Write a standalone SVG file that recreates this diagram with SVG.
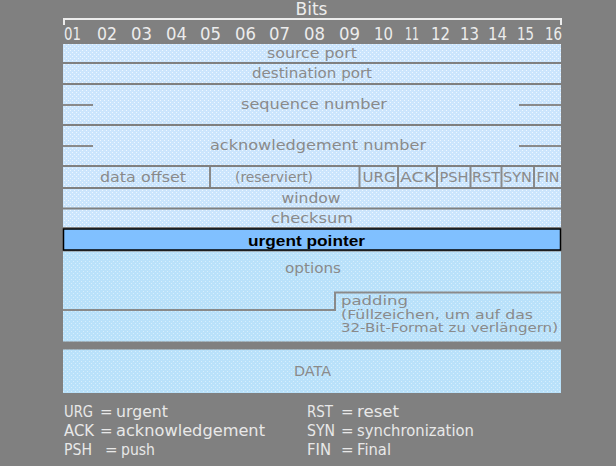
<svg xmlns="http://www.w3.org/2000/svg" width="616" height="466" viewBox="0 0 616 466">
<defs>
<pattern id="dither" width="4" height="4" patternUnits="userSpaceOnUse">
<rect width="4" height="4" fill="#cbe5fd"/>
<rect x="0" y="0" width="1" height="1" fill="#eef7ff"/>
<rect x="2" y="2" width="1" height="1" fill="#eef7ff"/>
</pattern>
<pattern id="dither2" width="4" height="4" patternUnits="userSpaceOnUse">
<rect width="4" height="4" fill="#b9e1fa"/>
<rect x="1" y="1" width="1" height="1" fill="#d6eefc"/>
<rect x="3" y="3" width="1" height="1" fill="#d6eefc"/>
</pattern>
</defs>
<style>
.row{fill:url(#dither);}
.row2{fill:url(#dither2);}
.lbl{font-family:"DejaVu Sans","Liberation Sans",sans-serif;font-size:14.5px;fill:#8a8a8a;text-anchor:middle;}
.lbls{font-family:"DejaVu Sans","Liberation Sans",sans-serif;font-size:13px;fill:#8a8a8a;}
.hdr{font-family:"DejaVu Sans","Liberation Sans",sans-serif;font-size:17px;fill:#ececec;}
.leg{font-family:"DejaVu Sans","Liberation Sans",sans-serif;font-size:15px;fill:#e8e8e8;}
.rule{stroke:#8a8a8a;stroke-width:2;fill:none;}
</style>
<rect width="616" height="466" fill="#808080"/>

<g id="header">
<text class="hdr" x="311.5" y="15" text-anchor="middle" font-size="18">Bits</text>
<polyline points="64,25 64,19 561,19 561,25" fill="none" stroke="#ececec" stroke-width="2"/>
<text class="hdr" x="64" y="40" textLength="17" lengthAdjust="spacingAndGlyphs">01</text>
<text class="hdr" x="97" y="40" textLength="20" lengthAdjust="spacingAndGlyphs">02</text>
<text class="hdr" x="131" y="40" textLength="21" lengthAdjust="spacingAndGlyphs">03</text>
<text class="hdr" x="166" y="40" textLength="21" lengthAdjust="spacingAndGlyphs">04</text>
<text class="hdr" x="200" y="40" textLength="21" lengthAdjust="spacingAndGlyphs">05</text>
<text class="hdr" x="235" y="40" textLength="21" lengthAdjust="spacingAndGlyphs">06</text>
<text class="hdr" x="269" y="40" textLength="21" lengthAdjust="spacingAndGlyphs">07</text>
<text class="hdr" x="304" y="40" textLength="21" lengthAdjust="spacingAndGlyphs">08</text>
<text class="hdr" x="339" y="40" textLength="21" lengthAdjust="spacingAndGlyphs">09</text>
<text class="hdr" x="374" y="40" textLength="19" lengthAdjust="spacingAndGlyphs">10</text>
<text class="hdr" x="405" y="40" textLength="14" lengthAdjust="spacingAndGlyphs">11</text>
<text class="hdr" x="431" y="40" textLength="19" lengthAdjust="spacingAndGlyphs">12</text>
<text class="hdr" x="460" y="40" textLength="19" lengthAdjust="spacingAndGlyphs">13</text>
<text class="hdr" x="488" y="40" textLength="19" lengthAdjust="spacingAndGlyphs">14</text>
<text class="hdr" x="517" y="40" textLength="17" lengthAdjust="spacingAndGlyphs">15</text>
<text class="hdr" x="545" y="40" textLength="17" lengthAdjust="spacingAndGlyphs">16</text>
</g>

<g id="source-port">
<rect class="row" x="63" y="44" width="498" height="18"/>
<text class="lbl" x="312" y="58" textLength="90" lengthAdjust="spacingAndGlyphs">source port</text>
</g>
<g id="destination-port">
<rect class="row" x="63" y="64" width="498" height="19"/>
<text class="lbl" x="312" y="78" textLength="120" lengthAdjust="spacingAndGlyphs">destination port</text>
</g>
<g id="sequence-number">
<rect class="row" x="63" y="85" width="498" height="39"/>
<text class="lbl" x="314" y="109" textLength="146" lengthAdjust="spacingAndGlyphs">sequence number</text>
</g>
<g id="acknowledgement-number">
<rect class="row" x="63" y="126" width="498" height="39"/>
<text class="lbl" x="318" y="150" textLength="216" lengthAdjust="spacingAndGlyphs">acknowledgement number</text>
</g>
<g id="flags-row">
<rect class="row" x="63" y="167" width="498" height="20"/>
<text class="lbl" x="143" y="182" textLength="86" lengthAdjust="spacingAndGlyphs">data offset</text>
<text class="lbl" x="274" y="182" textLength="78" lengthAdjust="spacingAndGlyphs">(reserviert)</text>
<text class="lbl" x="379" y="182" font-size="14" textLength="33" lengthAdjust="spacingAndGlyphs">URG</text>
<text class="lbl" x="417.5" y="182" font-size="14" textLength="35" lengthAdjust="spacingAndGlyphs">ACK</text>
<text class="lbl" x="454" y="182" font-size="14" textLength="29" lengthAdjust="spacingAndGlyphs">PSH</text>
<text class="lbl" x="486" y="182" font-size="14" textLength="28" lengthAdjust="spacingAndGlyphs">RST</text>
<text class="lbl" x="517.5" y="182" font-size="14" textLength="29" lengthAdjust="spacingAndGlyphs">SYN</text>
<text class="lbl" x="548" y="182" font-size="14" textLength="23" lengthAdjust="spacingAndGlyphs">FIN</text>
<g class="rule">
<line x1="210" y1="167" x2="210" y2="187"/>
<line x1="359.5" y1="167" x2="359.5" y2="187"/>
<line x1="398" y1="167" x2="398" y2="187"/>
<line x1="437" y1="167" x2="437" y2="187"/>
<line x1="470.5" y1="167" x2="470.5" y2="187"/>
<line x1="501.5" y1="167" x2="501.5" y2="187"/>
<line x1="534" y1="167" x2="534" y2="187"/>
</g>
</g>
<g id="window">
<rect class="row" x="63" y="189" width="498" height="18.5"/>
<text class="lbl" x="311" y="203" textLength="59" lengthAdjust="spacingAndGlyphs">window</text>
</g>
<g id="checksum">
<rect class="row" x="63" y="209.5" width="498" height="17.5"/>
<text class="lbl" x="312" y="223" textLength="82" lengthAdjust="spacingAndGlyphs">checksum</text>
</g>
<g id="urgent-pointer">
<rect x="63.5" y="229" width="497" height="21" fill="#80c0ff" stroke="#000" stroke-width="1.5"/>
<text x="306.5" y="246" text-anchor="middle" font-family="'Liberation Sans', Arial, sans-serif" font-weight="bold" font-size="15" fill="#000" textLength="117" lengthAdjust="spacingAndGlyphs">urgent pointer</text>
</g>
<g id="options">
<rect class="row2" x="63" y="251.5" width="498" height="90"/>
<text class="lbl" x="313" y="273" textLength="56" lengthAdjust="spacingAndGlyphs">options</text>
<text class="lbls" x="341" y="305" textLength="67" lengthAdjust="spacingAndGlyphs">padding</text>
<text class="lbls" x="341" y="318.5" textLength="192" lengthAdjust="spacingAndGlyphs">(Füllzeichen, um auf das</text>
<text class="lbls" x="341" y="332" textLength="217" lengthAdjust="spacingAndGlyphs">32-Bit-Format zu verlängern)</text>
</g>
<g id="data">
<rect class="row2" x="63" y="349.5" width="498" height="43.5"/>
<text class="lbl" x="312.5" y="376" textLength="37" lengthAdjust="spacingAndGlyphs">DATA</text>
</g>

<g id="connectors" class="rule">
<line x1="63" y1="105" x2="93" y2="105"/>
<line x1="519" y1="105" x2="561" y2="105"/>
<line x1="63" y1="146" x2="93" y2="146"/>
<line x1="519" y1="146" x2="561" y2="146"/>
<polyline points="63,310 335,310 335,292.5 561,292.5"/>
</g>

<g id="legend">
<text class="leg" x="64" y="417" textLength="29" lengthAdjust="spacingAndGlyphs">URG</text>
<text class="leg" x="100" y="417">=</text>
<text class="leg" x="116" y="417" textLength="52" lengthAdjust="spacingAndGlyphs">urgent</text>
<text class="leg" x="64" y="436" textLength="30" lengthAdjust="spacingAndGlyphs">ACK</text>
<text class="leg" x="100" y="436">=</text>
<text class="leg" x="116" y="436" textLength="149" lengthAdjust="spacingAndGlyphs">acknowledgement</text>
<text class="leg" x="64" y="455" textLength="28" lengthAdjust="spacingAndGlyphs">PSH</text>
<text class="leg" x="105" y="455">=</text>
<text class="leg" x="121" y="455" textLength="34" lengthAdjust="spacingAndGlyphs">push</text>
<text class="leg" x="307" y="417" textLength="26" lengthAdjust="spacingAndGlyphs">RST</text>
<text class="leg" x="341" y="417">=</text>
<text class="leg" x="357" y="417" textLength="42" lengthAdjust="spacingAndGlyphs">reset</text>
<text class="leg" x="307" y="436" textLength="28" lengthAdjust="spacingAndGlyphs">SYN</text>
<text class="leg" x="341" y="436">=</text>
<text class="leg" x="357" y="436" textLength="117" lengthAdjust="spacingAndGlyphs">synchronization</text>
<text class="leg" x="307" y="455" textLength="24" lengthAdjust="spacingAndGlyphs">FIN</text>
<text class="leg" x="341" y="455">=</text>
<text class="leg" x="357" y="455" textLength="34" lengthAdjust="spacingAndGlyphs">Final</text>
</g>
</svg>
